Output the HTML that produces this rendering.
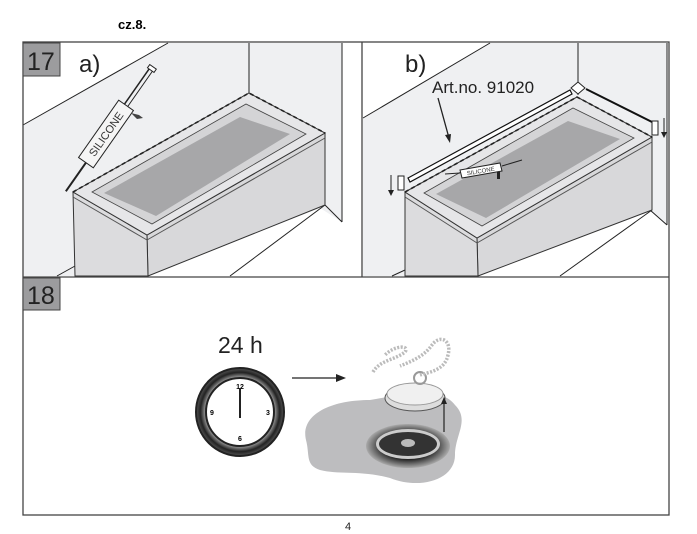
<!DOCTYPE html>
<html><head><meta charset="utf-8"><style>
body{margin:0;background:#fff;}
svg{display:block;font-family:"Liberation Sans",sans-serif;}
</style></head><body>
<svg width="697" height="534" viewBox="0 0 697 534" xmlns="http://www.w3.org/2000/svg">
<defs>
<radialGradient id="cg" cx="0.5" cy="0.5" r="0.5"><stop offset="0.8" stop-color="#888"/><stop offset="0.9" stop-color="#222"/><stop offset="1" stop-color="#555"/></radialGradient>
<radialGradient id="dg" cx="0.5" cy="0.5" r="0.5"><stop offset="0.6" stop-color="#222"/><stop offset="1" stop-color="#aaa"/></radialGradient>
</defs>
<rect width="697" height="534" fill="#fff"/>
<text x="118" y="29" font-size="13" font-weight="bold">cz.8.</text>
<!-- panel a walls -->
<polygon points="23,125 168,43 342,43 342,222 320,208 148,276 75,276 57,276 23,276" fill="#eff0f2"/>
<line x1="23" y1="125" x2="168" y2="43" stroke="#222" stroke-width="1"/>
<line x1="249" y1="43" x2="249" y2="93" stroke="#222"/>
<line x1="342" y1="43" x2="342" y2="222" stroke="#222"/>
<line x1="325" y1="205" x2="342" y2="222" stroke="#222"/>
<line x1="57" y1="276" x2="75" y2="266" stroke="#222"/>
<line x1="230" y1="276" x2="325" y2="205" stroke="#222"/>
<!-- tub a -->
<polygon points="147,235 325,133 325,205 148,276" fill="#d8d8da" stroke="#333" stroke-width="1"/>
<polygon points="73,192 147,235 148,276 75,276" fill="#dcdcde" stroke="#333" stroke-width="1"/>
<polygon points="73,192 249,93 325,133 147,235" fill="#e6e6e8" stroke="#333" stroke-width="1"/>
<line x1="73" y1="197" x2="147" y2="240" stroke="#555"/>
<line x1="147" y1="240" x2="325" y2="138" stroke="#555"/>
<polygon points="92,192 246,104 306,134 152,224" fill="#d4d4d6" stroke="#444" stroke-width="0.8"/>
<polygon points="104,193 240,117 290,134 156,216" fill="#a7a7a9"/>
<polyline points="73,192 249,93 325,133" fill="none" stroke="#222" stroke-width="1.6" stroke-dasharray="4,3"/>
<!-- silicone gun a -->
<g transform="translate(106,134) rotate(-55)">
<rect x="-35" y="-9" width="70" height="18" fill="#f5f5f5" stroke="#222"/>
<text x="0" y="4" font-size="11" text-anchor="middle" fill="#333">SILICONE</text>
<line x1="-35" y1="0" x2="-70" y2="0" stroke="#222" stroke-width="2"/>
<line x1="35" y1="-2" x2="80" y2="-2" stroke="#222" stroke-width="1.5"/>
<line x1="35" y1="2" x2="80" y2="2" stroke="#222" stroke-width="1"/>
<rect x="78" y="-4" width="4" height="8" fill="#fff" stroke="#222"/>
</g>
<path d="M131,113 l8,2 l4,3 -6,1z" fill="#444"/>
<!-- panel b walls -->
<polygon points="363,118 490,43 667,43 667,225 650,210 478,276 363,276" fill="#eff0f2"/>
<line x1="363" y1="118" x2="490" y2="43" stroke="#222"/>
<line x1="578" y1="43" x2="578" y2="95" stroke="#222"/>
<line x1="667" y1="43" x2="667" y2="225" stroke="#222"/>
<line x1="650" y1="210" x2="667" y2="225" stroke="#222"/>
<line x1="392" y1="276" x2="405" y2="270" stroke="#222"/>
<line x1="560" y1="276" x2="652" y2="210" stroke="#222"/>
<!-- tub b -->
<polygon points="477,238 652,137 652,210 478,276" fill="#d8d8da" stroke="#333"/>
<polygon points="405,192 477,238 478,276 405,276" fill="#dcdcde" stroke="#333"/>
<polygon points="405,192 577,97 652,137 477,238" fill="#e6e6e8" stroke="#333"/>
<line x1="405" y1="197" x2="477" y2="243" stroke="#555"/>
<line x1="477" y1="243" x2="652" y2="142" stroke="#555"/>
<polygon points="424,193 573,108 634,138 482,226" fill="#d4d4d6" stroke="#444" stroke-width="0.8"/>
<polygon points="436,194 568,121 620,139 486,218" fill="#a7a7a9"/>
<polyline points="405,192 577,97 652,137" fill="none" stroke="#222" stroke-width="1.6" stroke-dasharray="4,3"/>
<!-- strips -->
<polygon points="408,178 570,90 572,94 410,182" fill="#fff" stroke="#111" stroke-width="1.2"/>
<line x1="586" y1="89" x2="654" y2="123" stroke="#111" stroke-width="2"/>
<path d="M571,88 l7,-6 l7,6 l-7,6z" fill="#fff" stroke="#222"/>
<rect x="398" y="176" width="6" height="14" fill="#fff" stroke="#222"/>
<rect x="652" y="121" width="6" height="14" fill="#fff" stroke="#222"/>
<line x1="391" y1="175" x2="391" y2="194" stroke="#222"/><path d="M388,190 l3,6 l3,-6z" fill="#222"/>
<line x1="664" y1="118" x2="664" y2="136" stroke="#222"/><path d="M661,132 l3,6 l3,-6z" fill="#222"/>
<text x="432" y="93" font-size="17" fill="#222">Art.no. 91020</text>
<line x1="438" y1="98" x2="449" y2="138" stroke="#222" stroke-width="1.3"/><path d="M445,135 l5,8 l1,-9z" fill="#222"/>
<!-- gun b -->
<polygon points="460,170 500,163 502,171 462,178" fill="#fff" stroke="#222"/>
<text x="481" y="173" font-size="6" text-anchor="middle" fill="#333" transform="rotate(-10 481 173)">SILICONE</text>
<line x1="445" y1="174" x2="460" y2="173" stroke="#222"/>
<line x1="502" y1="166" x2="522" y2="160" stroke="#222"/>
<rect x="497" y="172" width="3" height="7" fill="#222"/>
<!-- frame -->
<rect x="23" y="42" width="646" height="473" fill="none" stroke="#444" stroke-width="1.3"/>
<line x1="362" y1="42" x2="362" y2="277" stroke="#444" stroke-width="1.3"/>
<line x1="23" y1="277" x2="669" y2="277" stroke="#444" stroke-width="1.3"/>
<rect x="23" y="43" width="37" height="33" fill="#9c9c9e" stroke="#444"/>
<text x="27" y="70" font-size="25" fill="#222">17</text>
<rect x="23" y="278" width="37" height="32" fill="#9c9c9e" stroke="#444"/>
<text x="27" y="304" font-size="25" fill="#222">18</text>
<text x="79" y="72" font-size="24" fill="#222">a)</text>
<text x="405" y="72" font-size="24" fill="#222">b)</text>
<!-- panel 18 -->
<text x="218" y="353" font-size="23" fill="#222">24 h</text>
<circle cx="240" cy="412" r="44" fill="url(#cg)"/>
<circle cx="240" cy="412" r="44" fill="none" stroke="#222" stroke-width="2"/>
<circle cx="240" cy="412" r="34" fill="#fff" stroke="#222" stroke-width="2"/>
<text x="240" y="389" font-size="7" font-weight="bold" text-anchor="middle">12</text>
<text x="240" y="441" font-size="7" font-weight="bold" text-anchor="middle">6</text>
<text x="212" y="415" font-size="7" font-weight="bold" text-anchor="middle">9</text>
<text x="268" y="415" font-size="7" font-weight="bold" text-anchor="middle">3</text>
<line x1="240" y1="388" x2="240" y2="418" stroke="#222" stroke-width="2"/>
<line x1="292" y1="378" x2="340" y2="378" stroke="#222" stroke-width="1.2"/><path d="M336,374 l10,4 l-10,4z" fill="#222"/>
<path d="M306,440 C300,415 330,400 370,400 C400,395 440,385 455,405 C470,420 455,435 455,455 C455,480 420,490 390,478 C360,470 340,475 320,470 C305,465 310,455 306,440z" fill="#bdbdbf"/>
<ellipse cx="408" cy="446" rx="42" ry="22" fill="url(#dg)"/>
<ellipse cx="408" cy="444" rx="32" ry="15" fill="#ccc"/>
<ellipse cx="408" cy="444" rx="29" ry="12" fill="#333"/>
<ellipse cx="408" cy="443" rx="7" ry="4" fill="#bbb"/>
<ellipse cx="415" cy="398" rx="30" ry="13" fill="#ddd" stroke="#555"/>
<ellipse cx="415" cy="394" rx="28" ry="11" fill="#f0f0f0" stroke="#999"/>
<circle cx="420" cy="378" r="6" fill="none" stroke="#999" stroke-width="2"/>
<path d="M373,372 C380,360 395,360 405,352 C410,345 395,345 385,355 M420,375 C430,372 445,370 448,355 C452,340 440,334 432,345 C425,355 415,360 400,366" fill="none" stroke="#bbb" stroke-width="3.5" stroke-dasharray="2,1.5"/>
<line x1="444" y1="432" x2="444" y2="402" stroke="#222" stroke-width="1.2"/><path d="M441,404 l3,-7 l3,7z" fill="#222"/>
<text x="345" y="530" font-size="11" fill="#222">4</text>
</svg>
</body></html>
